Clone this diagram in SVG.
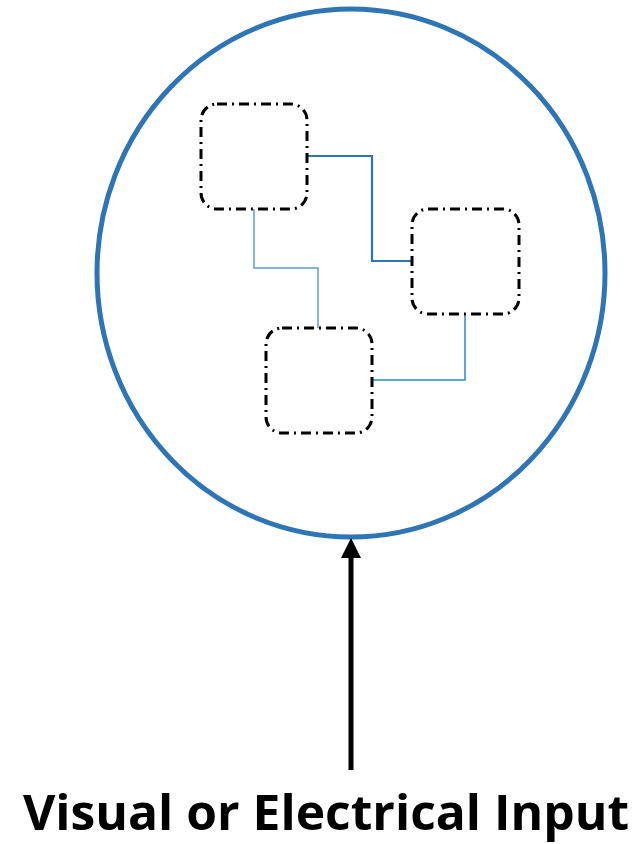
<svg xmlns="http://www.w3.org/2000/svg" width="641" height="844" viewBox="0 0 641 844">
<style>
.box{fill:none;stroke:#000;stroke-width:3;stroke-dasharray:10 5 2 5;stroke-linecap:butt}
.wire{fill:none}
</style>
<defs>
<marker id="ah" markerWidth="4" markerHeight="4" refX="2" refY="2" orient="auto" markerUnits="strokeWidth">
<path d="M0,0 L4,2 L0,4 Z" fill="#000"/>
</marker>
</defs>
<rect width="641" height="844" fill="#fff"/>
<g id="cell">
<ellipse cx="351" cy="273" rx="254" ry="264" fill="none" stroke="#2e75b6" stroke-width="5"/>
</g>
<g id="connectors">
<path class="wire" d="M307,156 H372 V261 H412" stroke="#2e75b6" stroke-width="2.2"/>
<path class="wire" d="M254,209 V268 H318 V328" stroke="#5b9bd5" stroke-width="1.5"/>
<path class="wire" d="M465,314 V380 H372" stroke="#2a88d0" stroke-width="1.5"/>
<path d="M351,770 V548" stroke="#000" stroke-width="5" marker-end="url(#ah)"/>
</g>
<g id="node1"><rect class="box" x="201" y="104" width="106" height="105" rx="16"/></g>
<g id="node2"><rect class="box" x="412" y="209" width="107" height="105" rx="16"/></g>
<g id="node3"><rect class="box" x="266" y="328" width="106" height="105" rx="16"/></g>
<g id="label">
<text x="326" y="830" text-anchor="middle" font-family="'Open Sans','DejaVu Sans',sans-serif" font-weight="bold" font-size="48" textLength="606" lengthAdjust="spacingAndGlyphs" fill="#000">Visual or Electrical Input</text>
</g>
</svg>
